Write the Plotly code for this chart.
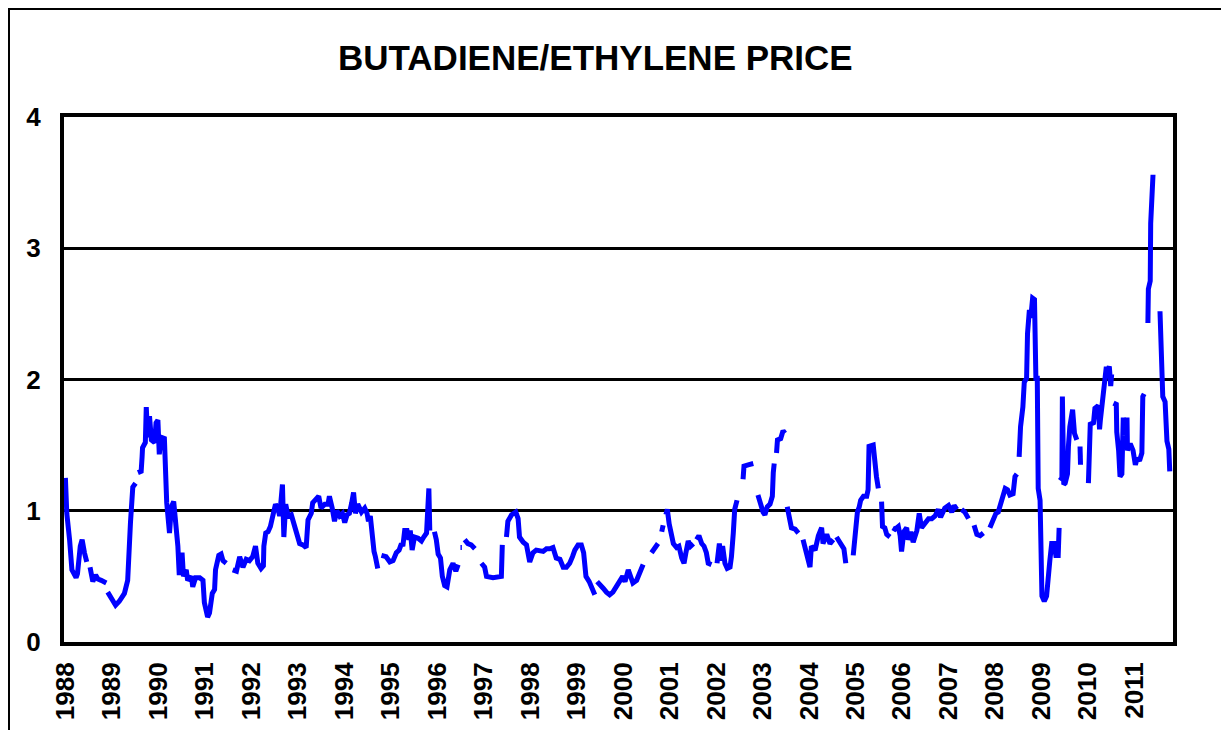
import plotly.graph_objects as go

# ---- data (decimal year, butadiene/ethylene price ratio); None marks a gap in the series ----
years = [
    1988.00, 1988.03, 1988.09, 1988.14, 1988.23, 1988.26, 1988.32, 1988.36, 1988.41, 1988.46, 1988.50,
    1988.53, 1988.59, 1988.65, 1988.70, 1988.77, 1988.88, 1988.90,
    1988.91, 1988.98, 1989.08, 1989.16, 1989.27, 1989.34, 1989.36, 1989.40, 1989.45, 1989.51, 1989.535,
    1989.56, 1989.63, 1989.65, 1989.66, 1989.72, 1989.74, 1989.77, 1989.81, 1989.85, 1989.92, 1989.95,
    1989.99, 1990.02, 1990.06, 1990.13, 1990.15, 1990.18, 1990.24, 1990.28, 1990.33, 1990.37, 1990.42,
    1990.45, 1990.51, 1990.54, 1990.60, 1990.63, 1990.71, 1990.74, 1990.80, 1990.89, 1990.96, 1990.99,
    1991.06, 1991.10, 1991.16, 1991.21, 1991.23, 1991.30, 1991.35, 1991.39, 1991.46, 1991.53,
    1991.60, 1991.68, 1991.75, 1991.82, 1991.89, 1991.96, 1992.03, 1992.09, 1992.14, 1992.21, 1992.26,
    1992.27, 1992.31, 1992.36, 1992.41, 1992.46, 1992.52, 1992.57, 1992.61, 1992.67, 1992.70, 1992.74,
    1992.79, 1992.86, 1992.91, 1992.97, 1993.04, 1993.11, 1993.18, 1993.22, 1993.29, 1993.32, 1993.40,
    1993.45, 1993.50, 1993.58, 1993.65, 1993.68, 1993.74, 1993.79, 1993.84, 1993.90, 1993.96, 1994.01,
    1994.06, 1994.11, 1994.16, 1994.20, 1994.24, 1994.29, 1994.37, 1994.44, 1994.49, 1994.52, 1994.56,
    1994.60, 1994.64, 1994.67, 1994.72, 1994.76,
    1994.80, 1994.90, 1994.98, 1995.05, 1995.12, 1995.18, 1995.23, 1995.26, 1995.30, 1995.35, 1995.39,
    1995.42, 1995.46, 1995.51, 1995.59, 1995.66, 1995.71, 1995.77, 1995.82, 1995.84, 1995.89,
    1995.94, 1995.98, 1996.02, 1996.07, 1996.11, 1996.16, 1996.21, 1996.27, 1996.34, 1996.40, 1996.45, 1996.48,
    1996.50, 1996.53, 1996.56,
    1996.59, 1996.66, 1996.73, 1996.81, 1996.88,
    1996.95, 1997.02, 1997.06, 1997.20, 1997.38, 1997.40, 1997.45,
    1997.49, 1997.52, 1997.60, 1997.69, 1997.74, 1997.77, 1997.85, 1997.92, 1997.99, 1998.06, 1998.13,
    1998.21, 1998.28, 1998.35, 1998.42, 1998.49, 1998.56, 1998.64, 1998.71, 1998.78, 1998.85, 1998.91,
    1998.96, 1999.03, 1999.10, 1999.15, 1999.20, 1999.27, 1999.32, 1999.39, 1999.42,
    1999.44, 1999.50, 1999.57, 1999.64, 1999.71, 1999.78, 1999.86, 1999.93, 1999.99, 2000.04, 2000.11,
    2000.18, 2000.21, 2000.29, 2000.36, 2000.43, 2000.52,
    2000.61, 2000.68, 2000.75, 2000.79,
    2000.83, 2000.86, 2000.89,
    2000.92, 2000.95, 2000.99, 2001.04, 2001.08, 2001.15, 2001.20, 2001.26, 2001.31, 2001.35, 2001.40,
    2001.45, 2001.51, 2001.545,
    2001.58, 2001.63, 2001.69, 2001.74, 2001.79, 2001.83, 2001.90, 2001.96,
    2002.02, 2002.07, 2002.10, 2002.14, 2002.19, 2002.24, 2002.30, 2002.33, 2002.37, 2002.40, 2002.45, 2002.52,
    2002.58, 2002.60, 2002.69, 2002.80, 2002.85,
    2002.90, 2002.96, 2003.01, 2003.05, 2003.10, 2003.16, 2003.21, 2003.23, 2003.25, 2003.275,
    2003.30, 2003.32, 2003.39, 2003.44, 2003.48, 2003.505,
    2003.53, 2003.57, 2003.62, 2003.70, 2003.77, 2003.82,
    2003.87, 2003.95, 2004.02, 2004.05, 2004.13, 2004.20, 2004.27, 2004.30, 2004.38, 2004.45, 2004.52, 2004.555,
    2004.59, 2004.65, 2004.70, 2004.75, 2004.79, 2004.87,
    2004.95, 2004.99, 2005.04, 2005.08, 2005.11, 2005.17, 2005.24, 2005.27, 2005.29, 2005.38, 2005.42,
    2005.45, 2005.49, 2005.525,
    2005.56, 2005.58, 2005.63, 2005.67, 2005.74, 2005.77,
    2005.80, 2005.85, 2005.92, 2005.96, 2005.99, 2006.04, 2006.10, 2006.13, 2006.19, 2006.24, 2006.32,
    2006.37, 2006.42, 2006.49, 2006.57, 2006.64, 2006.71, 2006.78, 2006.83, 2006.92, 2007.00, 2007.07,
    2007.12, 2007.18, 2007.23,
    2007.28, 2007.35, 2007.43, 2007.49,
    2007.55, 2007.61, 2007.68, 2007.75, 2007.82,
    2007.89, 2007.93, 2007.96, 2008.02, 2008.07, 2008.12, 2008.17, 2008.22, 2008.27, 2008.32, 2008.39,
    2008.43, 2008.47, 2008.495,
    2008.52, 2008.55, 2008.60, 2008.63, 2008.68, 2008.70, 2008.74, 2008.77, 2008.81, 2008.85, 2008.88,
    2008.91, 2008.93, 2008.97, 2009.01, 2009.06, 2009.11, 2009.14, 2009.18, 2009.22, 2009.27, 2009.31,
    2009.36, 2009.38, 2009.39,
    2009.40, 2009.44, 2009.45, 2009.48, 2009.51, 2009.56, 2009.58, 2009.61, 2009.67, 2009.71, 2009.76, 2009.795,
    2009.83, 2009.84, 2009.92,
    2010.01, 2010.02, 2010.05, 2010.12, 2010.15, 2010.22, 2010.25, 2010.27, 2010.33, 2010.39, 2010.44,
    2010.46, 2010.49, 2010.51, 2010.53,
    2010.55, 2010.61, 2010.62, 2010.66, 2010.69, 2010.73, 2010.76, 2010.78, 2010.81,
    2010.84, 2010.85, 2010.91, 2010.97, 2011.02, 2011.06, 2011.11, 2011.16, 2011.18, 2011.21, 2011.25,
    2011.29, 2011.30, 2011.34, 2011.35, 2011.40, 2011.47,
    2011.55, 2011.61, 2011.66, 2011.70, 2011.74, 2011.76,
]

ratio = [
    1.25, 0.98, 0.78, 0.55, 0.49, 0.52, 0.73, 0.78, 0.68, 0.61, None,
    0.57, 0.46, 0.51, 0.48, 0.47, 0.45, None,
    0.38, 0.34, 0.28, 0.31, 0.37, 0.47, 0.68, 0.91, 1.18, 1.21, None,
    1.29, 1.30, 1.41, 1.48, 1.52, 1.79, 1.56, 1.72, 1.54, 1.52, 1.67,
    1.69, 1.43, 1.56, 1.55, 1.14, 1.06, 0.83, 1.03, 1.07, 0.93, 0.73,
    0.51, 0.68, 0.50, 0.55, 0.47, 0.50, 0.42, 0.49, 0.49, 0.47, 0.30,
    0.19, 0.22, 0.37, 0.40, 0.55, 0.66, 0.67, 0.62, 0.60, None,
    0.55, 0.54, 0.65, 0.57, 0.63, 0.62, 0.65, 0.73, 0.60, 0.56, 0.58,
    0.73, 0.83, 0.84, 0.88, 0.96, 1.05, 1.02, 0.96, 1.20, 0.80, 1.05,
    0.96, 0.97, 0.91, 0.83, 0.75, 0.74, 0.72, 0.93, 0.98, 1.06, 1.10,
    1.11, 1.02, 1.05, 1.05, 1.11, 1.02, 0.92, 1.00, 0.96, 0.98, 0.91,
    0.97, 0.98, 1.06, 1.14, 0.98, 1.05, 0.99, 1.02, 0.98, 0.92, 0.96,
    0.78, 0.69, 0.65, 0.56, None,
    0.66, 0.65, 0.61, 0.62, 0.68, 0.70, 0.75, 0.73, 0.85, 0.85, 0.78,
    0.85, 0.70, 0.80, 0.79, 0.77, 0.80, 0.83, 1.17, 0.85, None,
    0.84, 0.78, 0.67, 0.64, 0.50, 0.43, 0.42, 0.55, 0.60, 0.54, 0.59, None,
    0.72, 0.72, None,
    0.78, 0.75, 0.74, 0.71, None,
    0.60, 0.57, 0.50, 0.49, 0.50, 0.74, None,
    0.80, 0.92, 0.97, 0.99, 0.94, 0.80, 0.76, 0.74, 0.61, 0.68, 0.70,
    0.69, 0.69, 0.71, 0.71, 0.72, 0.64, 0.63, 0.57, 0.57, 0.60, 0.65,
    0.70, 0.74, 0.74, 0.68, 0.50, 0.46, 0.42, 0.36, None,
    0.46, 0.43, 0.41, 0.38, 0.36, 0.38, 0.42, 0.46, 0.50, 0.46, 0.55,
    0.48, 0.45, 0.47, 0.52, 0.59, None,
    0.68, 0.72, 0.75, None,
    0.84, 0.89, None,
    0.97, 1.01, 0.90, 0.83, 0.75, 0.72, 0.73, 0.64, 0.60, 0.68, 0.77,
    0.73, 0.75, None,
    0.78, 0.81, 0.75, 0.73, 0.68, 0.60, 0.59, None,
    0.60, 0.75, 0.62, 0.73, 0.60, 0.56, 0.57, 0.65, 0.83, 1.01, 1.08, None,
    1.24, 1.34, 1.35, 1.36, None,
    1.12, 1.03, 0.99, 0.97, 1.03, 1.05, 1.11, 1.29, 1.36, None,
    1.44, 1.54, 1.55, 1.61, 1.59, None,
    1.03, 0.95, 0.87, 0.86, 0.83, None,
    0.78, 0.68, 0.57, 0.73, 0.70, 0.81, 0.87, 0.75, 0.82, 0.75, 0.78, None,
    0.80, 0.76, 0.73, 0.71, 0.60, None,
    0.66, 0.82, 0.99, 1.03, 1.08, 1.11, 1.11, 1.16, 1.49, 1.50, 1.29,
    1.26, 1.17, None,
    1.07, 0.88, 0.87, 0.82, 0.80, None,
    0.87, 0.86, 0.88, 0.81, 0.69, 0.84, 0.87, 0.78, 0.84, 0.76, 0.85,
    0.98, 0.87, 0.90, 0.94, 0.94, 0.96, 1.01, 0.95, 1.02, 1.04, 0.99,
    1.04, 1.01, None,
    1.01, 0.99, 0.94, None,
    0.89, 0.82, 0.81, 0.83, None,
    0.87, 0.91, 0.94, 0.98, 0.99, 1.05, 1.11, 1.17, 1.16, 1.12, 1.13,
    1.26, 1.28, None,
    1.41, 1.64, 1.79, 1.98, 2.01, 2.35, 2.53, 2.47, 2.62, 2.61, 2.01,
    2.01, 1.17, 1.08, 0.35, 0.31, 0.35, 0.50, 0.62, 0.75, 0.75, 0.66,
    0.66, 0.87, None,
    1.23, 1.25, 1.87, 1.20, 1.21, 1.28, 1.49, 1.64, 1.77, 1.59, 1.54, None,
    1.49, 1.35, None,
    1.21, 1.39, 1.66, 1.67, 1.78, 1.80, 1.62, 1.70, 1.90, 2.08, 2.08,
    2.10, 1.95, 2.04, None,
    1.82, 1.81, 1.60, 1.46, 1.26, 1.28, 1.71, 1.57, None,
    1.71, 1.46, 1.51, 1.46, 1.35, 1.40, 1.38, 1.44, 1.87, 1.89, None,
    2.43, 2.69, 2.75, 3.19, 3.56, None,
    2.52, 1.87, 1.83, 1.53, 1.47, 1.30,
]

assert len(years) == len(ratio), (len(years), len(ratio))

year_ticks = list(range(1988, 2012))
year_labels = [str(y) for y in year_ticks]
value_ticks = [0, 1, 2, 3, 4]

title_text = "BUTADIENE/ETHYLENE PRICE"

FONT = "Liberation Sans, Arial, sans-serif"

fig = go.Figure()
fig.add_trace(go.Scatter(
    x=years, y=ratio, mode="lines", connectgaps=False,
    line=dict(color="#0000FF", width=5),
    hoverinfo="x+y", showlegend=False,
))

# the page body adds an 8px offset, so margins are reduced accordingly
fig.update_layout(
    width=1229, height=730,
    margin=dict(l=56, r=64, t=109, b=96),
    paper_bgcolor="white", plot_bgcolor="white",
    font=dict(family=FONT, color="black"),
    showlegend=False,
)

fig.update_xaxes(
    range=[1987.97, 2011.83],
    tickmode="array", tickvals=year_ticks, ticktext=year_labels,
    tickangle=-90, tickfont=dict(size=26, family=FONT, weight="bold", color="black"),
    ticks="", ticklabelstandoff=6,
    showgrid=False, zeroline=False,
    showline=True, linecolor="black", linewidth=4, mirror=True,
)
fig.update_yaxes(
    range=[0, 4],
    tickmode="array", tickvals=value_ticks,
    tickfont=dict(size=26, family=FONT, weight="bold", color="black"),
    ticks="", ticklabelstandoff=14,
    showgrid=True, gridcolor="black", gridwidth=2.5,
    zeroline=False,
    showline=True, linecolor="black", linewidth=4, mirror=True,
)

# chart title
fig.add_annotation(
    text=title_text, xref="paper", yref="paper",
    x=0.4797, y=1.114, xanchor="center", yanchor="middle",
    showarrow=False, font=dict(size=35, family=FONT, weight="bold", color="black"),
)

# outer frame of the figure box (extends past the right/bottom edges of the page)
fig.add_shape(type="rect", xref="paper", yref="paper",
              x0=-0.0496, y0=-0.19, x1=1.06, y1=1.2057,
              line=dict(color="black", width=2), fillcolor="rgba(0,0,0,0)", layer="below")

fig.write_html("out.html")
